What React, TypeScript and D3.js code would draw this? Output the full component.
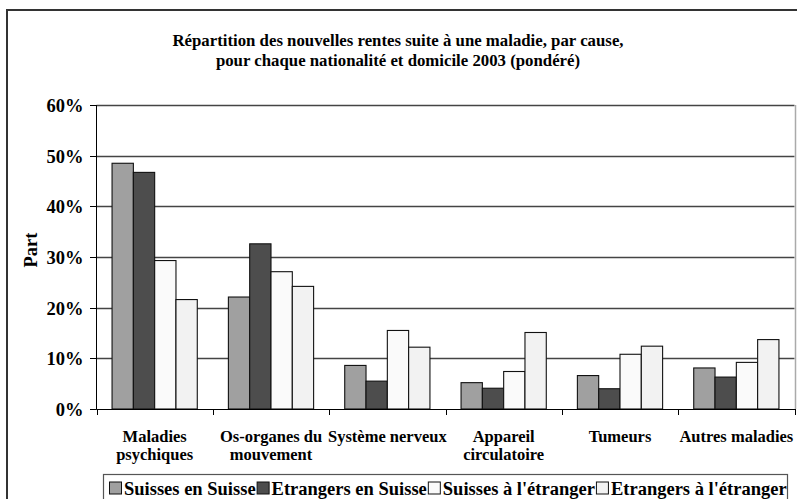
import React, { useEffect, useRef } from "react";
import * as d3 from "d3";

const categories: string[][] = [
  ["Maladies", "psychiques"],
  ["Os-organes du", "mouvement"],
  ["Système nerveux"],
  ["Appareil", "circulatoire"],
  ["Tumeurs"],
  ["Autres maladies"],
];
const seriesNames = ["Suisses en Suisse", "Etrangers en Suisse", "Suisses à l'étranger", "Etrangers à l'étranger"];
const suissesEnSuisse = [48.5, 22.1, 8.6, 5.2, 6.6, 8.1];
const etrangersEnSuisse = [46.7, 32.6, 5.5, 4.1, 4.0, 6.3];
const suissesEtranger = [29.3, 27.1, 15.5, 7.4, 10.8, 9.2];
const etrangersEtranger = [21.6, 24.2, 12.2, 15.1, 12.4, 13.7];
const yTicks = [0, 10, 20, 30, 40, 50, 60];
const titleLines = [
  "Répartition des nouvelles rentes suite à une maladie, par cause,",
  "pour chaque nationalité et domicile 2003 (pondéré)",
];
const yAxisTitle = "Part";

const colors = ["#A0A0A0", "#4D4D4D", "#FAFAFA", "#F2F2F2"];
const FONT = "'Liberation Serif', 'Times New Roman', serif";

export default function App() {
  const ref = useRef<SVGSVGElement>(null);
  useEffect(() => {
    const svg = d3.select(ref.current);
    svg.selectAll("*").remove();
    const W = 797, H = 499;
    const left = 96.5, right = 794.5, top = 105, bottom = 409;
    const seriesValues = [suissesEnSuisse, etrangersEnSuisse, suissesEtranger, etrangersEtranger];
    const catKeys = categories.map((c) => c.join(" "));

    const x0 = d3.scaleBand<string>().domain(catKeys).range([left, right]).padding(0);
    const x1 = d3.scaleBand<string>().domain(seriesNames).range([0, x0.bandwidth()]).paddingInner(0).paddingOuter(0.73);
    const y = d3.scaleLinear().domain([0, 60]).range([bottom, top]);

    svg.append("rect").attr("width", W).attr("height", H).attr("fill", "#fff");
    // outer border
    svg.append("rect").attr("x", 7).attr("y", 10).attr("width", 800).attr("height", 500)
      .attr("fill", "none").attr("stroke", "#333").attr("stroke-width", 2);

    // title
    const tg = svg.append("g").attr("font-family", FONT).attr("font-weight", "bold").attr("font-size", 16.8).attr("text-anchor", "middle");
    titleLines.forEach((t, i) => {
      tg.append("text").attr("x", 398).attr("y", 46 + i * 20).text(t);
    });

    // gridlines
    svg.append("g").selectAll("line").data(yTicks.filter((d) => d > 0)).join("line")
      .attr("x1", left).attr("x2", right)
      .attr("y1", (d) => Math.round(y(d)) + 0.5).attr("y2", (d) => Math.round(y(d)) + 0.5)
      .attr("stroke", "#444").attr("stroke-width", 1.3);

    // plot right border
    svg.append("line").attr("x1", right + 1).attr("x2", right + 1).attr("y1", top).attr("y2", bottom)
      .attr("stroke", "#aaa").attr("stroke-width", 1.5);

    // bars
    const bg = svg.append("g");
    catKeys.forEach((c, ci) => {
      seriesNames.forEach((s, si) => {
        const v = seriesValues[si][ci];
        bg.append("rect")
          .attr("x", (x0(c) as number) + (x1(s) as number))
          .attr("y", y(v))
          .attr("width", x1.bandwidth())
          .attr("height", y(0) - y(v))
          .attr("fill", colors[si])
          .attr("stroke", "#111")
          .attr("stroke-width", 1.1);
      });
    });

    // axes
    svg.append("line").attr("x1", left).attr("x2", left).attr("y1", top).attr("y2", bottom + 0.5).attr("stroke", "#000");
    svg.append("line").attr("x1", left).attr("x2", right + 1).attr("y1", Math.round(y(0)) + 0.5).attr("y2", Math.round(y(0)) + 0.5).attr("stroke", "#000");
    // y ticks
    const yg = svg.append("g").attr("font-family", FONT).attr("font-weight", "bold").attr("font-size", 18.5);
    yTicks.forEach((t) => {
      const yy = Math.round(y(t)) + 0.5;
      yg.append("line").attr("x1", left - 6.5).attr("x2", left).attr("y1", yy).attr("y2", yy).attr("stroke", "#000");
      yg.append("text").attr("x", 83.5).attr("y", yy + 6).attr("text-anchor", "end").text(`${t}%`);
    });
    // x ticks
    const xb = [...catKeys.map((c) => x0(c) as number), right];
    svg.append("g").selectAll("line").data(xb).join("line")
      .attr("x1", (d) => Math.round(d) + 0.5).attr("x2", (d) => Math.round(d) + 0.5)
      .attr("y1", bottom).attr("y2", bottom + 6).attr("stroke", "#000");
    // x labels
    const xg = svg.append("g").attr("font-family", FONT).attr("font-weight", "bold").attr("font-size", 16.5).attr("text-anchor", "middle");
    categories.forEach((lines, ci) => {
      const cx = (x0(catKeys[ci]) as number) + x0.bandwidth() / 2;
      lines.forEach((ln, li) => {
        xg.append("text").attr("x", cx).attr("y", 442 + li * 18).text(ln);
      });
    });

    // y title
    svg.append("text").attr("font-family", FONT).attr("font-weight", "bold").attr("font-size", 18.5)
      .attr("text-anchor", "middle").attr("transform", "translate(37,250) rotate(-90)").text(yAxisTitle);

    // legend
    svg.append("rect").attr("x", 103.5).attr("y", 474.5).attr("width", 684).attr("height", 40)
      .attr("fill", "#fff").attr("stroke", "#555").attr("stroke-width", 1.2);
    const lg = svg.append("g").attr("font-family", FONT).attr("font-weight", "bold").attr("font-size", 18.5);
    let lx = 109.5;
    seriesNames.forEach((s, si) => {
      lg.append("rect").attr("x", lx).attr("y", 482).attr("width", 12).attr("height", 12)
        .attr("fill", colors[si]).attr("stroke", "#111").attr("stroke-width", 1);
      const t = lg.append("text").attr("x", lx + 14.5).attr("y", 495).text(s);
      const w = (t.node() as SVGTextElement).getComputedTextLength();
      lx = lx + 14.5 + w + 1.5;
    });
  }, []);
  return (
    <svg ref={ref} width={797} height={499} style={{ position: "absolute", left: 0, top: 0, display: "block" }} />
  );
}
